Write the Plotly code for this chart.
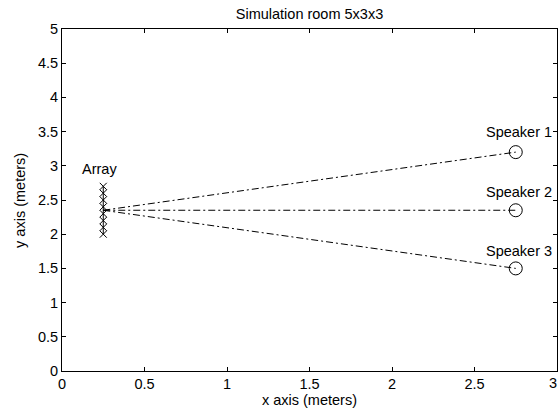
import plotly.graph_objects as go

# Data
array_x = [0.25] * 8
array_y = [2.0, 2.1, 2.2, 2.3, 2.4, 2.5, 2.6, 2.7]
array_center = (0.25, 2.35)
speaker_x = [2.75, 2.75, 2.75]
speaker_y = [3.2, 2.35, 1.5]
speaker_labels = ["Speaker 1", "Speaker 2", "Speaker 3"]
xticks = [0, 0.5, 1, 1.5, 2, 2.5, 3]
xticklabels = ["0", "0.5", "1", "1.5", "2", "2.5", "3"]
yticks = [0, 0.5, 1, 1.5, 2, 2.5, 3, 3.5, 4, 4.5, 5]
yticklabels = ["0", "0.5", "1", "1.5", "2", "2.5", "3", "3.5", "4", "4.5", "5"]

FONT = "Liberation Sans, Arial, sans-serif"
FS = 14.5

fig = go.Figure()

# dash-dot lines from array center to each speaker
for sx, sy in zip(speaker_x, speaker_y):
    fig.add_trace(go.Scatter(
        x=[array_center[0], sx], y=[array_center[1], sy], mode="lines",
        line=dict(color="black", width=1, dash="7px,3px,2px,3px"),
        showlegend=False, hoverinfo="skip"))

# array elements
fig.add_trace(go.Scatter(
    x=array_x, y=array_y, mode="lines+markers",
    line=dict(color="black", width=1),
    marker=dict(symbol="x-thin", size=7, color="black",
                line=dict(color="black", width=1)),
    showlegend=False))

# speakers
fig.add_trace(go.Scatter(
    x=speaker_x, y=speaker_y, mode="markers",
    marker=dict(symbol="circle-open", size=13, color="black",
                line=dict(color="black", width=1)),
    showlegend=False))

# text labels
fig.add_annotation(x=0.23, y=2.95, text="Array", showarrow=False,
                   font=dict(family=FONT, size=FS, color="black"))
label_y = [3.49, 2.62, 1.75]
for lab, ly in zip(speaker_labels, label_y):
    fig.add_annotation(x=2.56, y=ly, text=lab, showarrow=False, xanchor="left",
                       font=dict(family=FONT, size=FS, color="black"))

# y axis title
fig.add_annotation(xref="paper", yref="paper", x=-0.085, y=0.5, text="y axis (meters)",
                   textangle=-90, showarrow=False, xanchor="center", yanchor="middle",
                   font=dict(family=FONT, size=FS, color="black"))

# last x tick label, kept inside the page edge
fig.add_annotation(x=xticks[-1], xref="x", yref="paper", y=0, text=xticklabels[-1],
                   showarrow=False, xanchor="right", yanchor="top", xshift=2, yshift=-2,
                   font=dict(family=FONT, size=FS, color="black"))

axis_common = dict(
    showgrid=False, zeroline=False, showline=True, linecolor="black", linewidth=1,
    mirror="ticks", ticks="inside", ticklen=4, tickcolor="black",
    tickfont=dict(family=FONT, size=FS, color="black"), automargin=False,
)

fig.update_xaxes(range=[0, 3], tickvals=xticks, ticktext=xticklabels[:-1] + [""],
                 title=dict(text="x axis (meters)", font=dict(family=FONT, size=FS, color="black"),
                            standoff=0),
                 **axis_common)
fig.update_yaxes(range=[0, 5], tickvals=yticks, ticktext=yticklabels, **axis_common)

fig.update_layout(
    width=560, height=408,
    margin=dict(l=62, r=3, t=29, b=37),
    paper_bgcolor="white", plot_bgcolor="white",
    title=dict(text="Simulation room 5x3x3", x=0.5527, xanchor="center", y=0.966, yanchor="middle",
               font=dict(family=FONT, size=FS, color="black")),
)

fig.write_html("out.html", config={"displayModeBar": False},
               post_script="document.body.style.margin='0';document.body.style.overflow='hidden';")
